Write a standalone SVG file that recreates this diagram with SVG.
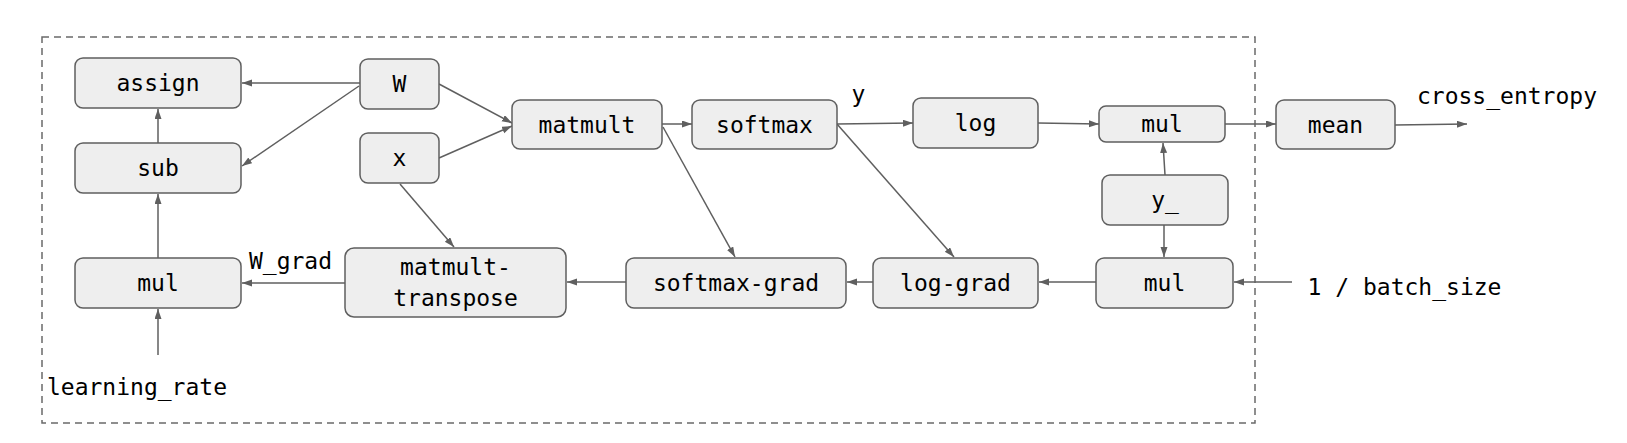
<svg xmlns="http://www.w3.org/2000/svg" width="1627" height="443" viewBox="0 0 1627 443">
<style>
.box{fill:#eeeeee;stroke:#5f5f5f;stroke-width:1.5}
.t{font-family:"DejaVu Sans Mono","Liberation Mono",monospace;font-size:23px;fill:#000;text-anchor:middle}
.e{stroke:#5f5f5f;stroke-width:1.5;fill:none;marker-end:url(#ah)}
</style>
<defs>
<marker id="ah" markerUnits="userSpaceOnUse" markerWidth="11" markerHeight="8" refX="10" refY="3.5" orient="auto">
<path d="M0,0 L10,3.5 L0,7 z" fill="#5f5f5f"/>
</marker>
</defs>
<rect id="boundary" x="42" y="37" width="1213" height="386" fill="none" stroke="#6a6a6a" stroke-width="1.5" stroke-dasharray="7,5"/>
<g id="connectors">
<line class="e" x1="360" y1="83" x2="242" y2="83"/>
<line class="e" x1="359" y1="86" x2="242" y2="166"/>
<line class="e" x1="158" y1="143" x2="158" y2="109"/>
<line class="e" x1="158" y1="258" x2="158" y2="194"/>
<line class="e" x1="158" y1="355" x2="158" y2="309"/>
<line class="e" x1="439" y1="84" x2="512" y2="123"/>
<line class="e" x1="439" y1="158" x2="512" y2="126"/>
<line class="e" x1="400" y1="184" x2="454" y2="247"/>
<line class="e" x1="662" y1="124" x2="692" y2="124"/>
<line class="e" x1="663" y1="127" x2="735" y2="257"/>
<line class="e" x1="837" y1="124" x2="913" y2="123"/>
<line class="e" x1="837" y1="124" x2="954" y2="257"/>
<line class="e" x1="1038" y1="123" x2="1099" y2="124"/>
<line class="e" x1="1165" y1="175" x2="1163" y2="143"/>
<line class="e" x1="1164" y1="225" x2="1164" y2="257"/>
<line class="e" x1="1225" y1="124" x2="1276" y2="124"/>
<line class="e" x1="1395" y1="125" x2="1467" y2="124"/>
<line class="e" x1="1292" y1="282" x2="1234" y2="282"/>
<line class="e" x1="1096" y1="282" x2="1039" y2="282"/>
<line class="e" x1="873" y1="282" x2="847" y2="282"/>
<line class="e" x1="626" y1="282" x2="567" y2="282"/>
<line class="e" x1="345" y1="283" x2="242" y2="283"/>
</g>
<g id="assign"><rect class="box" x="75" y="58" width="166" height="50" rx="8"/><text class="t" x="158" y="91">assign</text></g>
<g id="sub"><rect class="box" x="75" y="143" width="166" height="50" rx="8"/><text class="t" x="158" y="176">sub</text></g>
<g id="mul_lr"><rect class="box" x="75" y="258" width="166" height="50" rx="8"/><text class="t" x="158" y="291">mul</text></g>
<g id="W"><rect class="box" x="360" y="59" width="79" height="50" rx="8"/><text class="t" x="399.5" y="92">W</text></g>
<g id="x"><rect class="box" x="360" y="133" width="79" height="50" rx="8"/><text class="t" x="399.5" y="166">x</text></g>
<g id="matmult"><rect class="box" x="512" y="100" width="150" height="49" rx="8"/><text class="t" x="587" y="132.5">matmult</text></g>
<g id="softmax"><rect class="box" x="692" y="100" width="145" height="49" rx="8"/><text class="t" x="764.5" y="132.5">softmax</text></g>
<g id="log"><rect class="box" x="913" y="98" width="125" height="50" rx="8"/><text class="t" x="975.5" y="131">log</text></g>
<g id="mul_top"><rect class="box" x="1099" y="106" width="126" height="36" rx="7"/><text class="t" x="1162" y="132">mul</text></g>
<g id="y_"><rect class="box" x="1102" y="175" width="126" height="50" rx="8"/><text class="t" x="1165" y="208">y_</text></g>
<g id="mean"><rect class="box" x="1276" y="100" width="119" height="49" rx="8"/><text class="t" x="1335.5" y="132.5">mean</text></g>
<g id="mul_bs"><rect class="box" x="1096" y="258" width="137" height="50" rx="8"/><text class="t" x="1164.5" y="291">mul</text></g>
<g id="log_grad"><rect class="box" x="873" y="258" width="165" height="50" rx="8"/><text class="t" x="955.5" y="291">log-grad</text></g>
<g id="softmax_grad"><rect class="box" x="626" y="258" width="220" height="50" rx="8"/><text class="t" x="736" y="291">softmax-grad</text></g>
<g id="matmult_transpose"><rect class="box" x="345" y="248" width="221" height="69" rx="9"/><text class="t" x="455.5" y="275">matmult-</text><text class="t" x="455.5" y="306">transpose</text></g>
<g id="labels">
<text class="t" x="858.5" y="102">y</text>
<text class="t" x="1507" y="104">cross_entropy</text>
<text class="t" x="290.5" y="268.5">W_grad</text>
<text class="t" x="137" y="395">learning_rate</text>
<text class="t" x="1404.5" y="295">1 / batch_size</text>
</g>
</svg>
